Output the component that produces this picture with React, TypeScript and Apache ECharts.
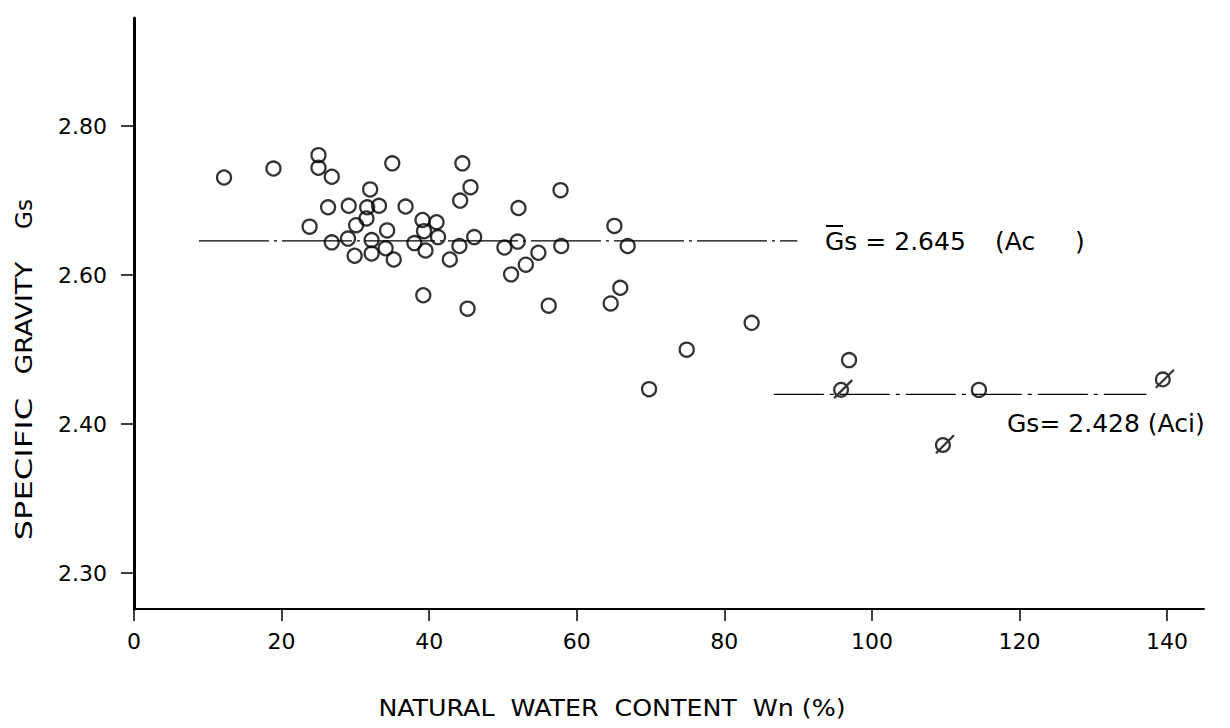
import React, { useEffect, useRef } from "react";
import * as echarts from "echarts";

// Natural water content Wn (%) and specific gravity Gs — Ac (plain circles)
const acWater = [
  12.2, 18.9, 25.0, 25.0, 26.8, 35.0, 44.5, 45.6, 44.2, 32.0,
  26.3, 29.1, 31.6, 33.2, 36.8, 31.5, 30.1, 23.8, 39.1, 41.0,
  39.3, 34.3, 41.2, 26.8, 29.0, 32.2, 34.1, 38.0, 39.5, 44.1,
  46.1, 50.2, 29.9, 32.2, 35.2, 42.8, 51.1, 39.2, 45.2, 57.8,
  52.1, 52.0, 54.8, 53.1, 57.9, 65.1, 66.9, 56.2, 65.9, 64.6,
  74.9, 69.8, 83.7, 96.9, 114.5,
];
const acGs = [
  2.731, 2.743, 2.761, 2.744, 2.732, 2.75, 2.75, 2.718, 2.7, 2.715,
  2.691, 2.693, 2.691, 2.693, 2.692, 2.676, 2.667, 2.665, 2.674, 2.671,
  2.659, 2.66, 2.651, 2.644, 2.649, 2.647, 2.636, 2.643, 2.633, 2.639,
  2.651, 2.637, 2.626, 2.629, 2.621, 2.621, 2.601, 2.573, 2.555, 2.714,
  2.69, 2.645, 2.63, 2.614, 2.639, 2.666, 2.639, 2.559, 2.583, 2.562,
  2.5, 2.447, 2.536, 2.486, 2.446,
];
// Aci (slashed circles)
const aciWater = [96.1, 109.9, 139.7];
const aciGs = [2.447, 2.373, 2.461];

// mean lines
const meanAcX = [8.8, 89.9];
const meanAcGs = 2.646;
const meanAciX = [86.7, 137.2];
const meanAciGs = 2.44;

// ticks
const xTicks = [0, 20, 40, 60, 80, 100, 120, 140];
const yTickValues = [2.2, 2.4, 2.6, 2.8];
const yTickLabels = ["2.30", "2.40", "2.60", "2.80"];

const FONT = "DejaVu Sans";
const slashCircle =
  "path://M11,8A5,5,0,1,1,1,8A5,5,0,1,1,11,8Z M1,14L14,1";

export default function App() {
  const ref = useRef<HTMLDivElement>(null);
  useEffect(() => {
    if (!ref.current) return;
    const chart = echarts.init(ref.current, null, { renderer: "svg" });
    const pointStyle = {
      color: "transparent",
      borderColor: "#000",
      borderWidth: 2.3,
    };
    chart.setOption({
      animation: false,
      backgroundColor: "#fff",
      grid: { left: 134, right: 26, top: 18, bottom: 119, containLabel: false },
      xAxis: {
        type: "value",
        min: 0,
        max: 145,
        interval: 20,
        splitLine: { show: false },
        axisLine: { lineStyle: { color: "#000", width: 2 } },
        axisTick: {
          customValues: xTicks,
          length: 12,
          lineStyle: { color: "#000", width: 1.5 },
        },
        axisLabel: {
          customValues: xTicks,
          margin: 21,
          color: "#000",
          fontFamily: FONT,
          fontSize: 22,
        },
      },
      yAxis: {
        type: "value",
        min: 2.152,
        max: 2.945,
        splitLine: { show: false },
        axisLine: { lineStyle: { color: "#000", width: 3 } },
        axisTick: {
          customValues: yTickValues,
          length: 13,
          lineStyle: { color: "#000", width: 1.5 },
        },
        axisLabel: {
          customValues: yTickValues,
          margin: 27,
          color: "#000",
          fontFamily: FONT,
          fontSize: 22,
          formatter: (v: number) => {
            const i = yTickValues.findIndex((t) => Math.abs(t - v) < 1e-6);
            return i >= 0 ? yTickLabels[i] : "";
          },
        },
      },
      series: [
        {
          type: "line",
          data: meanAcX.map((x) => [x, meanAcGs]),
          symbol: "none",
          lineStyle: { color: "#000", width: 1.3, type: [70, 5, 3, 5] },
          z: 1,
        },
        {
          type: "line",
          data: meanAciX.map((x) => [x, meanAciGs]),
          symbol: "none",
          lineStyle: { color: "#000", width: 1.3, type: [50, 6, 4, 6] },
          z: 1,
        },
        {
          type: "scatter",
          data: acWater.map((x, i) => [x, acGs[i]]),
          symbol: "circle",
          symbolSize: 14,
          itemStyle: pointStyle,
          z: 3,
        },
        {
          type: "scatter",
          data: aciWater.map((x, i) => [x, aciGs[i]]),
          symbol: slashCircle,
          symbolSize: 18,
          itemStyle: pointStyle,
          z: 3,
        },
      ],
      graphic: [
        {
          type: "text",
          x: 825,
          y: 241,
          style: {
            text: "Gs = 2.645",
            font: `25px "${FONT}"`,
            fill: "#000",
            textAlign: "left",
            textVerticalAlign: "middle",
          },
        },
        {
          type: "line",
          shape: { x1: 826, y1: 226, x2: 843, y2: 226 },
          style: { stroke: "#000", lineWidth: 2 },
        },
        {
          type: "text",
          x: 995,
          y: 241,
          style: {
            text: "(Ac     )",
            font: `25px "${FONT}"`,
            fill: "#000",
            textAlign: "left",
            textVerticalAlign: "middle",
          },
        },
        {
          type: "text",
          x: 1007,
          y: 423,
          style: {
            text: "Gs= 2.428 (Aci)",
            font: `25px "${FONT}"`,
            fill: "#000",
            textAlign: "left",
            textVerticalAlign: "middle",
          },
        },
        {
          type: "text",
          x: 24,
          y: 469,
          rotation: Math.PI / 2,
          scaleX: 1.4,
          style: {
            text: "SPECIFIC",
            font: `23px "${FONT}"`,
            fill: "#000",
            textAlign: "center",
            textVerticalAlign: "middle",
          },
        },
        {
          type: "text",
          x: 24,
          y: 318,
          rotation: Math.PI / 2,
          scaleX: 1.15,
          style: {
            text: "GRAVITY",
            font: `23px "${FONT}"`,
            fill: "#000",
            textAlign: "center",
            textVerticalAlign: "middle",
          },
        },
        {
          type: "text",
          x: 24,
          y: 214,
          rotation: Math.PI / 2,
          style: {
            text: "Gs",
            font: `23px "${FONT}"`,
            fill: "#000",
            textAlign: "center",
            textVerticalAlign: "middle",
          },
        },
        {
          type: "text",
          x: 612,
          y: 708,
          scaleX: 1.1,
          style: {
            text: "NATURAL  WATER  CONTENT  Wn (%)",
            font: `23px "${FONT}"`,
            fill: "#000",
            textAlign: "center",
            textVerticalAlign: "middle",
          },
        },
      ],
    });
    return () => chart.dispose();
  }, []);
  return (
    <div
      ref={ref}
      style={{ position: "absolute", left: 0, top: 0, width: 1230, height: 728 }}
    />
  );
}
